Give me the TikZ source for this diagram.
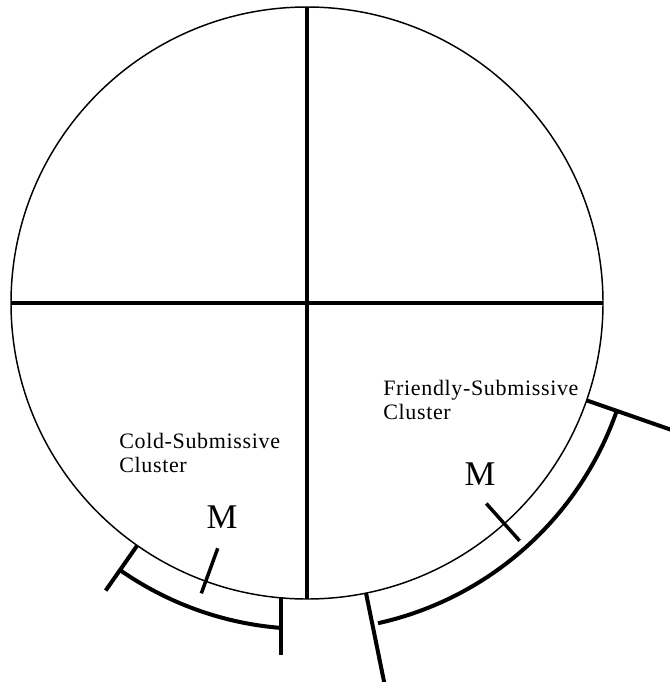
\documentclass[tikz,border=0pt]{standalone}
\usepackage{fontspec}
\setmainfont{Liberation Serif}
\usetikzlibrary{calc}

\begin{document}
\begin{tikzpicture}[
    x=0.75pt, y=-0.75pt,
    rim_line/.style={line width=1.1pt, black},
    axis_line/.style={line width=2.7pt, black},
    bracket_line/.style={line width=3pt, black},
    tick_line/.style={line width=2.6pt, black},
    cluster_lbl/.style={inner sep=0pt, align=left, font=\fontsize{16.5}{18}\selectfont\addfontfeatures{LetterSpace=3}},
    mean_lbl/.style={inner sep=0pt, font=\fontsize{26}{26}\selectfont},
]
    \useasboundingbox (0,0) rectangle (670,682);

    % ===== CIRCLE AND AXES =====
    \coordinate (ctr) at (307,303);
    \draw[rim_line] (ctr) circle[radius=296];
    \coordinate (top) at ($(ctr)+(270:296)$);
    \coordinate (bot) at ($(ctr)+(90:296)$);
    \coordinate (lft) at ($(ctr)+(180:296)$);
    \coordinate (rgt) at ($(ctr)+(0:296)$);
    \draw[axis_line] (top) -- (bot);
    \draw[axis_line] (lft) -- (rgt);

    % ===== COLD-SUBMISSIVE CLUSTER =====
    \node[cluster_lbl, anchor=base west] (coldLbl) at (119,472) {Cold-Submissive\\Cluster};
    \node[mean_lbl, anchor=base] (coldM) at (222,528) {M};
    \draw[tick_line] ($(ctr)+(110:261)$) -- ($(ctr)+(110:309)$);
    \coordinate (coldA) at ($(ctr)+(125:296)$);
    \coordinate (coldB) at ($(ctr)+(125:351)$);
    \coordinate (coldC) at (281,597);
    \coordinate (coldD) at (281,655);
    \draw[bracket_line] (coldA) -- (coldB);
    \draw[bracket_line] (coldC) -- (coldD);
    \draw[bracket_line] ($(ctr)+(125:326)$) arc[start angle=125, end angle=94.6, radius=326];

    % ===== FRIENDLY-SUBMISSIVE CLUSTER =====
    \node[cluster_lbl, anchor=base west] (friendLbl) at (383,419) {Friendly-Submissive\\Cluster};
    \node[mean_lbl, anchor=base] (friendM) at (480,485) {M};
    \draw[tick_line] ($(ctr)+(48.2:269)$) -- ($(ctr)+(48.2:319)$);
    \coordinate (friendA) at ($(ctr)+(19.2:296)$);
    \coordinate (friendB) at ($(ctr)+(19.2:386)$);
    \coordinate (friendC) at ($(ctr)+(78.5:296)$);
    \coordinate (friendD) at ($(ctr)+(78.5:388)$);
    \draw[bracket_line] (friendA) -- (friendB);
    \draw[bracket_line] (friendC) -- (friendD);
    \draw[bracket_line] ($(ctr)+(19.3:328)$) arc[start angle=19.3, end angle=77.5, radius=328];

\end{tikzpicture}
\end{document}
